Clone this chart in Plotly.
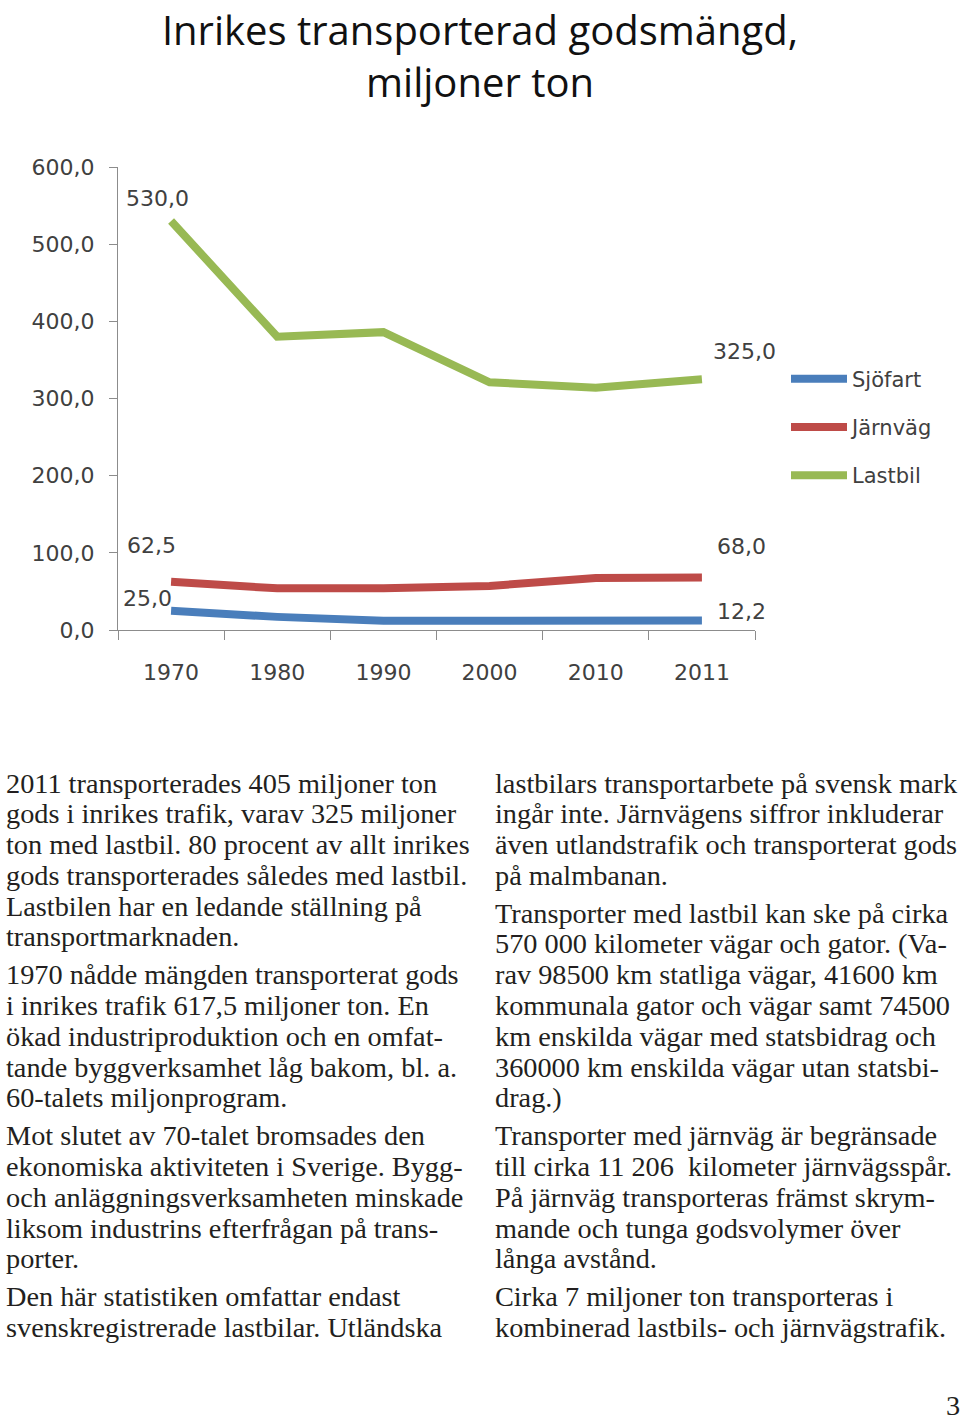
import plotly.graph_objects as go

years = ["1970", "1980", "1990", "2000", "2010", "2011"]
sjofart = [25.0, 17.0, 12.0, 12.0, 12.0, 12.2]
jarnvag = [62.5, 54.0, 54.0, 57.0, 67.5, 68.0]
lastbil = [530.0, 380.0, 386.0, 321.0, 314.0, 325.0]
series_names = ["Sjöfart", "Järnväg", "Lastbil"]
y_ticks = [0, 100, 200, 300, 400, 500, 600]

col1 = [
    ["2011 transporterades 405 miljoner ton",
     "gods i inrikes trafik, varav 325 miljoner",
     "ton med lastbil. 80 procent av allt inrikes",
     "gods transporterades således med lastbil.",
     "Lastbilen har en ledande ställning på",
     "transportmarknaden."],
    ["1970 nådde mängden transporterat gods",
     "i inrikes trafik 617,5 miljoner ton. En",
     "ökad industriproduktion och en omfat-",
     "tande byggverksamhet låg bakom, bl. a.",
     "60-talets miljonprogram."],
    ["Mot slutet av 70-talet bromsades den",
     "ekonomiska aktiviteten i Sverige. Bygg-",
     "och anläggningsverksamheten minskade",
     "liksom industrins efterfrågan på trans-",
     "porter."],
    ["Den här statistiken omfattar endast",
     "svenskregistrerade lastbilar. Utländska"],
]
col2 = [
    ["lastbilars transportarbete på svensk mark",
     "ingår inte. Järnvägens siffror inkluderar",
     "även utlandstrafik och transporterat gods",
     "på malmbanan."],
    ["Transporter med lastbil kan ske på cirka",
     "570 000 kilometer vägar och gator. (Va-",
     "rav 98500 km statliga vägar, 41600 km",
     "kommunala gator och vägar samt 74500",
     "km enskilda vägar med statsbidrag och",
     "360000 km enskilda vägar utan statsbi-",
     "drag.)"],
    ["Transporter med järnväg är begränsade",
     "till cirka 11 206  kilometer järnvägsspår.",
     "På järnväg transporteras främst skrym-",
     "mande och tunga godsvolymer över",
     "långa avstånd."],
    ["Cirka 7 miljoner ton transporteras i",
     "kombinerad lastbils- och järnvägstrafik."],
]

colors = ["#4A7EBB", "#BE4B48", "#98B954"]
W, H = 960, 1420
ML, MR = 118, 960 - 755
MT, MB = 167, 1420 - 630
PW, PH = W - ML - MR, H - MT - MB


def paper(px, py):
    """page pixel -> paper coords"""
    return (px - ML) / PW, (H - MB - py) / PH


fig = go.Figure()
for name, vals, c in zip(series_names, [sjofart, jarnvag, lastbil], colors):
    fig.add_trace(go.Scatter(x=years, y=vals, name=name, mode="lines",
                             line=dict(color=c, width=8), legendgroup=name))

# data labels (first and last point of each series)
lab_font = dict(family="DejaVu Sans", size=22, color="#404040")
first, last = 0, len(years) - 1
labels = [
    (first, lastbil[first], -14, 23),
    (last, lastbil[last], 43, 28),
    (first, jarnvag[first], -20, 36),
    (first, sjofart[first], -24, 12),
    (last, jarnvag[last], 40, 31),
    (last, sjofart[last], 40, 9),
]
for xi, y, dx, dy in labels:
    fig.add_annotation(x=xi, y=y, xref="x", yref="y",
                       text=f"{y:.1f}".replace(".", ","), showarrow=False,
                       xshift=dx, yshift=dy, font=lab_font)

# body text
body_font = dict(family="Liberation Serif", size=28.3, color="#231F20")
for col, x0 in [(col1, 4), (col2, 493)]:
    yy = 783
    for para in col:
        for line in para:
            px, py = paper(x0, yy)
            fig.add_annotation(x=px, y=py, xref="paper", yref="paper", text=line,
                               showarrow=False, xanchor="left", yanchor="middle",
                               font=body_font)
            yy += 30.8
        yy += 7

px, py = paper(953, 1405)
fig.add_annotation(x=px, y=py, xref="paper", yref="paper", text="3", showarrow=False,
                   xanchor="center", yanchor="middle", font=body_font)

tick_font = dict(family="DejaVu Sans", size=22, color="#404040")
lx, ly = paper(786, 427)
fig.update_layout(
    width=W, height=H,
    margin=dict(l=ML, r=MR, t=MT, b=MB),
    paper_bgcolor="white", plot_bgcolor="white",
    separators=", ",
    title=dict(text="Inrikes transporterad godsmängd,<br>miljoner ton",
               x=480 / W, xref="container", xanchor="center",
               y=1 - 45 / H, yref="container", yanchor="middle",
               font=dict(family="Open Sans", size=40, color="#111")),
    legend=dict(x=lx, xanchor="left", y=ly, yanchor="middle",
                font=dict(family="DejaVu Sans", size=21, color="#404040"),
                itemwidth=56, tracegroupgap=18, bgcolor="rgba(0,0,0,0)"),
    xaxis=dict(type="category", range=[-0.5, len(years) - 0.5], showline=True,
               linecolor="#8C8C8C", linewidth=1, ticks="outside", tickson="boundaries",
               ticklen=9, tickcolor="#8C8C8C", showgrid=False, zeroline=False,
               tickfont=tick_font, ticklabelstandoff=23),
    yaxis=dict(range=[0, 600], tickvals=y_ticks, tickformat=".1f", showline=True,
               linecolor="#8C8C8C", linewidth=1, ticks="outside", ticklen=8,
               tickcolor="#8C8C8C", showgrid=False, zeroline=False,
               tickfont=tick_font, ticklabelstandoff=10),
)

fig.write_html("out.html", config={"displayModeBar": False},
               post_script="document.body.style.margin='0';")
